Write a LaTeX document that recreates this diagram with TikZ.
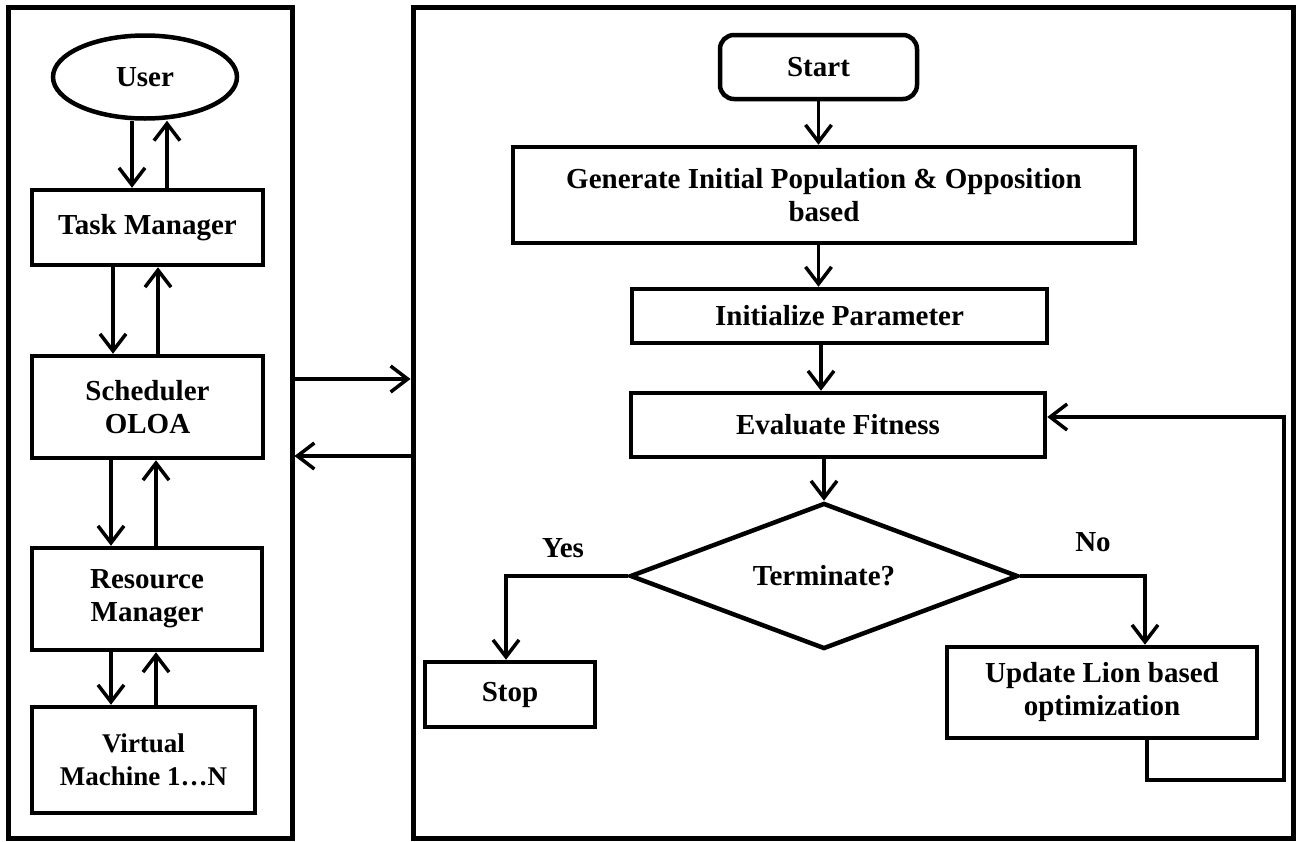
\documentclass[tikz,border=0pt]{standalone}
\usepackage{fontspec}
\setmainfont{Liberation Serif}
\usetikzlibrary{arrows.meta,shapes.geometric}

\newcommand{\boxfont}{\fontsize{29}{33}\selectfont\bfseries}

\tikzset{
  panel/.style={draw, line width=5pt, inner sep=0pt},
  box/.style={draw, line width=4.5pt, rectangle, align=center, font=\boxfont, inner sep=0pt},
  arr/.style={line width=3.5pt, -{Straight Barb[length=17pt,width=26pt]}},
  lbl/.style={font=\boxfont}
}

\begin{document}
\begin{tikzpicture}[x=1pt,y=-1pt]

\useasboundingbox (0,0) rectangle (1296,841);

% Two panels
\node[panel, minimum width=284pt, minimum height=831pt] (sys) at (150,422.5) {};
\node[panel, minimum width=880pt, minimum height=831pt] (flow) at (853,422.5) {};

% Left panel: cloud side
\node[box, ellipse, minimum width=184pt, minimum height=83pt] (user) at (145,77) {User};
\node[box, minimum width=231pt, minimum height=75pt] (tm) at (147.5,227.5) {Task Manager};
\node[box, minimum width=231pt, minimum height=102pt] (sched) at (147.5,407) {Scheduler\\OLOA};
\node[box, minimum width=230pt, minimum height=102pt] (res) at (147,599) {Resource\\Manager};
\node[box, minimum width=223pt, minimum height=106pt, font=\fontsize{27}{33}\selectfont\bfseries] (vm) at (143.5,760) {Virtual\\Machine 1…N};

% Down and up arrows between the boxes
\foreach \a/\b/\d/\u in {user/tm/132/167, tm/sched/113/158, sched/res/111/156, res/vm/111/156}
{
\draw[arr] (\a.south -| \d,0) -- (\b.north -| \d,0);
\draw[arr] (\b.north -| \u,0) -- (\a.south -| \u,0);
}

% Between the panels
\draw[arr] (sys.east |- 0,379) -- (flow.west |- 0,379);
\draw[arr] (flow.west |- 0,456) -- (sys.east |- 0,456);

% Right panel: flowchart
\node[box, rounded corners=14pt, minimum width=197pt, minimum height=64pt] (start) at (818.5,67) {Start};
\node[box, minimum width=622pt, minimum height=96pt] (gen) at (824,195) {Generate Initial Population \& Opposition\\based};
\node[box, minimum width=415pt, minimum height=54pt] (init) at (839.5,316) {Initialize Parameter};
\node[box, minimum width=414pt, minimum height=64pt] (eval) at (838,425) {Evaluate Fitness};
\node[box, diamond, aspect=2.66, minimum width=388pt, minimum height=146pt] (term) at (824,576) {Terminate?};
\node[box, minimum width=170pt, minimum height=65pt] (stop) at (510,694.5) {Stop};
\node[box, minimum width=310pt, minimum height=91pt] (upd) at (1102,692.5) {Update Lion based\\optimization};

% Branch labels
\node[lbl] (yes) at (563,548) {Yes};
\node[lbl] (no) at (1093,542) {No};

% Flow
\draw[arr] (start.south) -- (start.south |- gen.north);
\draw[arr] (gen.south -| start) -- (init.north -| start);
\draw[arr] (init.south -| 821,0) -- (eval.north -| 821,0);
\draw[arr] (eval.south -| term) -- (term.north);
\draw[arr] (term.west) -| (stop.north -| 506,0);
\draw[arr] (term.east) -| (upd.north -| 1145,0);

% Loop back to fitness
\draw[arr] (upd.south -| 1147,0) |- (1284,780) |- (eval.east |- 0,417);

\end{tikzpicture}
\end{document}
